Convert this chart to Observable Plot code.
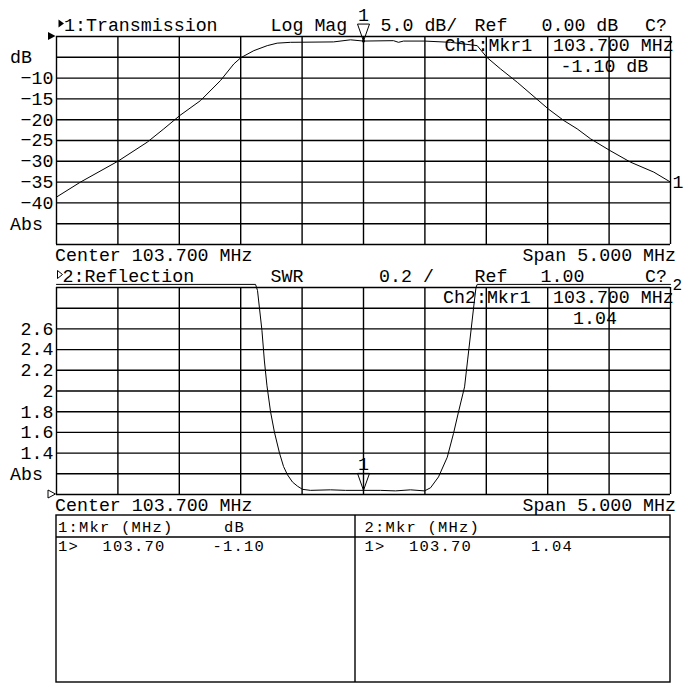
<!DOCTYPE html>
<html>
<head>
<meta charset="utf-8">
<script src="https://cdn.jsdelivr.net/npm/d3@7"></script>
<script src="https://cdn.jsdelivr.net/npm/@observablehq/plot@0.6"></script>
<style>
  body { margin: 0; background: #fff; }
  #wrap { position: relative; width: 700px; height: 700px; background: #fff; overflow: hidden; }
  #wrap > svg { position: absolute; left: 0; margin: 0; }
</style>
</head>
<body>
<div id="wrap"></div>
<script>
// ---------- data ----------
// Channel 1: Transmission, Log Mag (dB) vs frequency (MHz)
const freqT = [101.2, 101.395, 101.699, 101.939, 102.074, 102.204, 102.373, 102.535, 102.644, 102.701,
               102.807, 102.916, 102.997, 103.106, 103.456, 103.594, 103.700, 103.944, 103.985, 104.026,
               104.197, 104.409, 104.626, 104.704, 104.816, 104.952, 105.204, 105.331, 105.440, 105.549,
               105.706, 105.874, 106.064, 106.2];
const dbT   = [-38.6, -35.0, -30.0, -25.4, -22.2, -19.0, -15.4, -10.6, -6.6, -5.1,
               -3.4, -2.2, -1.6, -1.4, -1.3, -0.8, -1.1, -1.0, -1.4, -1.1,
               -1.1, -1.4, -2.2, -5.0, -7.8, -11.0, -17.4, -20.2, -22.2, -24.6,
               -27.4, -30.2, -32.6, -35.0];
// Channel 2: Reflection, SWR vs frequency (MHz); 3.03 = trace pinned just above the top of the scale
const freqR = [101.2, 102.821, 102.837, 102.873, 102.893, 102.914, 102.943, 102.975, 103.016, 103.049,
               103.081, 103.122, 103.163, 103.203, 103.268, 103.431, 103.553, 103.700, 103.838, 103.961,
               104.083, 104.197, 104.246, 104.311, 104.382, 104.433, 104.474, 104.523, 104.548, 104.576,
               104.599, 104.616, 104.626, 106.2];
const swrR  = [3.03, 3.03, 2.97, 2.585, 2.29, 2.05, 1.80, 1.60, 1.40, 1.27,
               1.19, 1.12, 1.08, 1.05, 1.04, 1.045, 1.04, 1.04, 1.04, 1.035,
               1.045, 1.035, 1.065, 1.17, 1.36, 1.59, 1.80, 2.04, 2.30, 2.59,
               2.83, 3.00, 3.03, 3.03];

// markers
const mkrFreq = [103.70];
const mkrDb = [-1.10];
const mkrSwr = [1.04];

// grid (10 x 10 divisions) and tick labels
const gridFreq = [101.2, 101.7, 102.2, 102.7, 103.2, 103.7, 104.2, 104.7, 105.2, 105.7, 106.2];
const gridDb   = [0, -5, -10, -15, -20, -25, -30, -35, -40, -45, -50];
const gridSwr  = [1.0, 1.2, 1.4, 1.6, 1.8, 2.0, 2.2, 2.4, 2.6, 2.8, 3.0];
const tickDb   = [-10, -15, -20, -25, -30, -35, -40];
const tickSwr  = [2.6, 2.4, 2.2, 2.0, 1.8, 1.6, 1.4];
const unitDb   = [{v: -5, t: "dB"}, {v: -45, t: "Abs"}];
const unitSwr  = [{v: 1.2, t: "Abs"}];

// header / footer texts
const hdr1 = ["1:Transmission", "Log Mag", "5.0 dB/", "Ref", "0.00 dB", "C?"];
const hdr2 = ["2:Reflection", "SWR", "0.2 /", "Ref", "1.00", "C?"];
const mkr1Text = ["Ch1:Mkr1", "103.700 MHz", "-1.10 dB"];
const mkr2Text = ["Ch2:Mkr1", "103.700 MHz", "1.04"];
const centerText = "Center 103.700 MHz";
const spanText = "Span 5.000 MHz";
const tableHdr = ["1:Mkr (MHz)", "dB", "2:Mkr (MHz)"];
const tableRow1 = ["1>", "103.70", "-1.10"];
const tableRow2 = ["1>", "103.70", "1.04"];

// ---------- drawing ----------
const FONT = "'Liberation Mono', 'DejaVu Sans Mono', monospace";
const FS = 18.3;
const GRID_W = 1.4;

const trans = freqT.map((f, i) => ({f, v: dbT[i]}));
const refl = freqR.map((f, i) => ({f, v: swrR[i]}));

const markerSym = {
  draw(ctx) { ctx.moveTo(0, 0); ctx.lineTo(-6, -17); ctx.lineTo(6, -17); ctx.closePath(); }
};
const fmtMinus = d => (d < 0 ? "\u2212" + Math.abs(d) : String(d));

const common = {
  width: 700, height: 250, marginLeft: 56, marginRight: 30, marginBottom: 6,
  style: {fontFamily: FONT, fontSize: FS + "px", background: "transparent", overflow: "visible", color: "black"}
};

const plot1 = Plot.plot({
  ...common,
  marginTop: 36,
  x: {domain: [101.2, 106.2], axis: null},
  y: {domain: [-50, 0], axis: null},
  marks: [
    Plot.ruleX(gridFreq, {x: d => d, stroke: "black", strokeWidth: GRID_W}),
    Plot.ruleY(gridDb, {y: d => d, stroke: "black", strokeWidth: GRID_W}),
    Plot.text(tickDb, {y: d => d, text: fmtMinus, frameAnchor: "left", dx: -3, textAnchor: "end"}),
    Plot.text(unitDb, {y: "v", text: "t", frameAnchor: "left", dx: -46.5, textAnchor: "start"}),
    Plot.line(trans, {x: "f", y: "v", stroke: "black", strokeWidth: 1}),
    Plot.text([trans[trans.length - 1]], {x: "f", y: "v", text: () => "1", dx: 2, textAnchor: "start"}),
    Plot.dot(mkrFreq.map((f, i) => ({f, v: mkrDb[i]})), {x: "f", y: "v", symbol: markerSym, r: 6, stroke: "black", fill: "none", strokeWidth: 1}),
    Plot.dot(mkrFreq.map((f, i) => ({f, v: mkrDb[i]})), {x: "f", y: "v", r: 1.5, fill: "black"}),
    Plot.text(mkrFreq.map((f, i) => ({f, v: mkrDb[i]})), {x: "f", y: "v", text: () => "1", dy: -26})
  ]
});

const plot2 = Plot.plot({
  ...common,
  marginTop: 37,
  x: {domain: [101.2, 106.2], axis: null},
  y: {domain: [1, 3], axis: null},
  marks: [
    Plot.ruleX(gridFreq, {x: d => d, stroke: "black", strokeWidth: GRID_W}),
    Plot.ruleY(gridSwr, {y: d => d, stroke: "black", strokeWidth: GRID_W}),
    Plot.text(tickSwr, {y: d => d, text: d => String(d), frameAnchor: "left", dx: -3, textAnchor: "end"}),
    Plot.text(unitSwr, {y: "v", text: "t", frameAnchor: "left", dx: -46.5, textAnchor: "start"}),
    Plot.line(refl, {x: "f", y: "v", stroke: "black", strokeWidth: 1}),
    Plot.text([refl[refl.length - 1]], {x: "f", y: "v", text: () => "2", dx: 2, textAnchor: "start", fontSize: 16}),
    Plot.dot(mkrFreq.map((f, i) => ({f, v: mkrSwr[i]})), {x: "f", y: "v", symbol: markerSym, r: 6, stroke: "black", fill: "none", strokeWidth: 1}),
    Plot.text(mkrFreq.map((f, i) => ({f, v: mkrSwr[i]})), {x: "f", y: "v", text: () => "1", dy: -26})
  ]
});

const wrap = document.getElementById("wrap");
plot1.style.top = "0px";
plot2.style.top = "250px";
wrap.appendChild(plot1);
wrap.appendChild(plot2);

// ---------- overlay: instrument annotations and marker table ----------
const ov = d3.create("svg").attr("width", 700).attr("height", 700)
  .style("top", "0px").style("position", "absolute").style("left", "0px")
  .style("font-family", FONT).style("font-size", FS + "px");

function txt(x, y, s, anchor = "start", small = false) {
  const t = ov.append("text").attr("x", x).attr("y", y).attr("text-anchor", anchor)
    .attr("fill", "black").style("white-space", "pre").text(s);
  if (small) t.style("font-size", "15.5px").style("letter-spacing", "1.2px");
}

// Panel 1 header
ov.append("polygon").attr("points", "58.5,19.5 58.5,27.5 64,23.5").attr("fill", "black");
const hdrX = [64, 270.5, 380.5, 474.5, 541.5, 645];
hdr1.forEach((s, i) => txt(hdrX[i], 30.5, s));
// reference level marker (filled)
ov.append("polygon").attr("points", "48,32 48,40 55.5,36").attr("fill", "black");
// marker readout ch1
txt(444.5, 50.5, mkr1Text[0]);
txt(553, 50.5, mkr1Text[1]);
txt(560.5, 71.5, mkr1Text[2]);
// Panel 1 footer
txt(55, 261, centerText);
txt(676, 261, spanText, "end");

// Panel 2 header
ov.append("polygon").attr("points", "57.5,270.5 57.5,278.5 62.5,274.5").attr("fill", "none").attr("stroke", "black");
const hdr2X = [62.5, 270.5, 379, 474.5, 540.5, 645];
hdr2.forEach((s, i) => txt(hdr2X[i], 281.5, s));
// reference level marker (open)
ov.append("polygon").attr("points", "48,490 48,498 55.5,494").attr("fill", "none").attr("stroke", "black");
// marker readout ch2
txt(443, 302.5, mkr2Text[0]);
txt(553, 302.5, mkr2Text[1]);
txt(573, 324, mkr2Text[2]);
// Panel 2 footer
txt(55, 511, centerText);
txt(676, 511, spanText, "end");

// Marker table
ov.append("rect").attr("x", 56).attr("y", 515).attr("width", 614).attr("height", 167)
  .attr("fill", "none").attr("stroke", "black").attr("stroke-width", GRID_W);
ov.append("line").attr("x1", 355).attr("x2", 355).attr("y1", 515).attr("y2", 682)
  .attr("stroke", "black").attr("stroke-width", GRID_W);
ov.append("line").attr("x1", 56).attr("x2", 670).attr("y1", 537).attr("y2", 537)
  .attr("stroke", "black").attr("stroke-width", GRID_W);
txt(58, 531.5, tableHdr[0], "start", true);
txt(224, 531.5, tableHdr[1], "start", true);
txt(364.5, 531.5, tableHdr[2], "start", true);
txt(58, 551, tableRow1[0], "start", true);
txt(102.5, 551, tableRow1[1], "start", true);
txt(212.5, 551, tableRow1[2], "start", true);
txt(364.5, 551, tableRow2[0], "start", true);
txt(409, 551, tableRow2[1], "start", true);
txt(531, 551, tableRow2[2], "start", true);

wrap.appendChild(ov.node());
</script>
</body>
</html>
